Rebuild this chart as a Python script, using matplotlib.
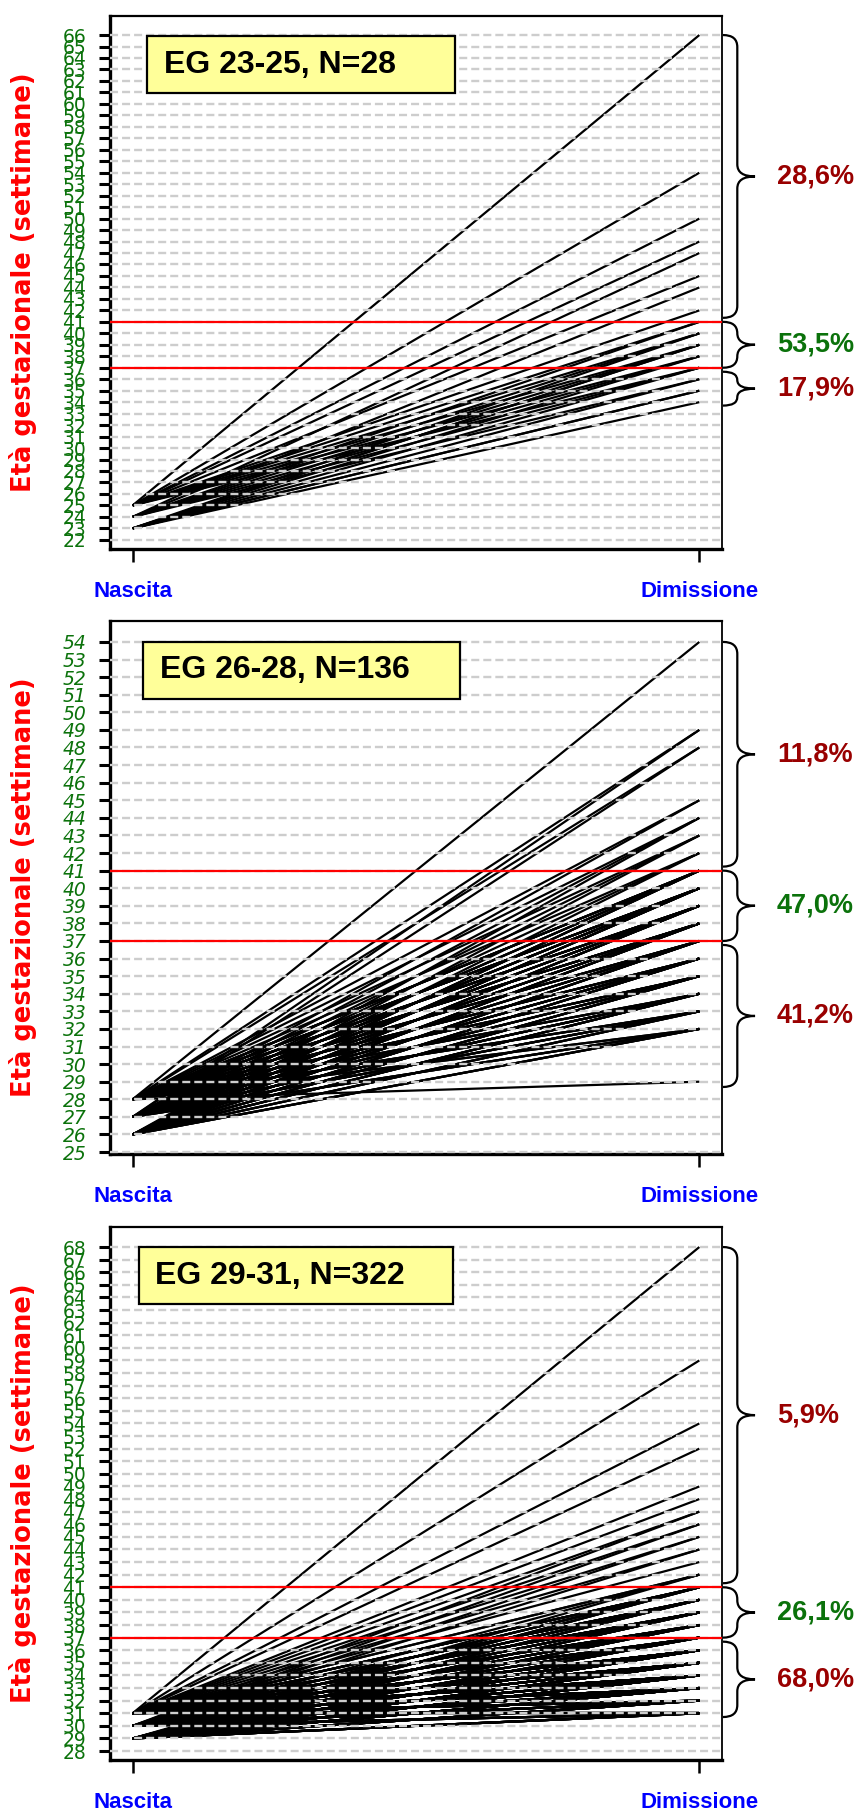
import numpy as np
import matplotlib
matplotlib.use('Agg')
import matplotlib.pyplot as plt
from matplotlib.patches import Rectangle, PathPatch
from matplotlib.path import Path
from matplotlib.transforms import blended_transform_factory

# ---- data: gestational age (weeks) at birth -> at discharge ----
# counts[i] = number of infants born at that GA discharged at ends[i]
p1_title = 'EG 23-25, N=28'
p1_births = [25, 24, 23]
p1_ends = [66, 54, 50, 48, 47, 45, 44, 42, 41, 40, 39, 38, 37, 36, 35, 34]
p1_counts_25 = [1, 1, 1, 1, 0, 1, 0, 1, 1, 1, 1, 1, 1, 0, 0, 0]
p1_counts_24 = [0, 0, 0, 0, 1, 0, 1, 0, 1, 1, 1, 1, 1, 1, 0, 0]
p1_counts_23 = [0, 0, 0, 0, 0, 0, 0, 0, 0, 1, 2, 1, 1, 1, 2, 1]
p1_ticks = list(range(22, 67))
p1_pct = ['28,6%', '53,5%', '17,9%']

p2_title = 'EG 26-28, N=136'
p2_births = [28, 27, 26]
p2_ends = [54, 49, 48, 45, 44, 43, 42, 41, 40, 39, 38, 37, 36, 35, 34, 33, 32, 29]
p2_counts_28 = [1, 1, 1, 1, 1, 1, 1, 4, 5, 5, 5, 4, 4, 4, 3, 3, 2, 1]
p2_counts_27 = [0, 1, 1, 1, 1, 1, 1, 3, 5, 5, 5, 4, 5, 4, 5, 4, 3, 0]
p2_counts_26 = [0, 0, 0, 0, 1, 1, 1, 3, 4, 4, 4, 4, 4, 4, 4, 3, 3, 0]
p2_ticks = list(range(25, 55))
p2_pct = ['11,8%', '47,0%', '41,2%']

p3_title = 'EG 29-31, N=322'
p3_births = [31, 30, 29]
p3_ends = [68, 59, 54, 52, 49, 48, 47, 46, 45, 44, 43, 42,
           41, 40, 39, 38, 37, 36, 35, 34, 33, 32, 31]
p3_counts_31 = [1, 1, 1, 1, 1, 1, 1, 1, 1, 1, 1, 2, 5, 6, 7, 6, 7, 13, 14, 13, 12, 9, 5]
p3_counts_30 = [0, 0, 0, 0, 0, 0, 1, 1, 1, 1, 0, 1, 4, 6, 6, 7, 7, 15, 16, 16, 14, 11, 6]
p3_counts_29 = [0, 0, 0, 0, 0, 0, 0, 0, 0, 0, 0, 1, 3, 4, 5, 5, 6, 14, 15, 15, 14, 10, 7]
p3_ticks = list(range(28, 69))
p3_pct = ['5,9%', '26,1%', '68,0%']

x_labels = ['Nascita', 'Dimissione']
term_lo, term_hi = 37, 41
ylabel = 'Età gestazionale (settimane)'

GREEN = '#0b720b'
DARKRED = '#990000'
FIG_W, FIG_H = 858, 1812

panels = [
    dict(title=p1_title, births=p1_births, ends=p1_ends,
         counts=[p1_counts_25, p1_counts_24, p1_counts_23], ticks=p1_ticks,
         pct=p1_pct, px=(110, 16, 722, 549), ylim=(21.2, 67.66), italic=False,
         box=(0.0605, 0.5637, 0.9625, 0.8555)),
    dict(title=p2_title, births=p2_births, ends=p2_ends,
         counts=[p2_counts_28, p2_counts_27, p2_counts_26], ticks=p2_ticks,
         pct=p2_pct, px=(110, 621, 722, 1154), ylim=(24.89, 55.19), italic=True,
         box=(0.054, 0.572, 0.9606, 0.8537)),
    dict(title=p3_title, births=p3_births, ends=p3_ends,
         counts=[p3_counts_31, p3_counts_30, p3_counts_29], ticks=p3_ticks,
         pct=p3_pct, px=(110, 1227, 722, 1760), ylim=(27.29, 69.59), italic=False,
         box=(0.047, 0.56, 0.962, 0.8555)),
]


def draw_brace(ax, y_top, y_bot, ppu):
    trans = blended_transform_factory(ax.transAxes, ax.transData)
    x0, xs, xt = 1.0016, 1.025, 1.054
    r = min(12.0, abs(y_top - y_bot) * ppu / 4.0) / ppu
    ym = (y_top + y_bot) / 2.0
    verts = [(x0, y_top), (xs, y_top), (xs, y_top - r),
             (xs, ym + r), (xs, ym), (xt, ym),
             (xs, ym), (xs, ym - r),
             (xs, y_bot + r), (xs, y_bot), (x0, y_bot)]
    codes = [Path.MOVETO, Path.CURVE3, Path.CURVE3,
             Path.LINETO, Path.CURVE3, Path.CURVE3,
             Path.CURVE3, Path.CURVE3,
             Path.LINETO, Path.CURVE3, Path.CURVE3]
    patch = PathPatch(Path(verts, codes), transform=trans, fill=False,
                      lw=1.6, edgecolor='black', clip_on=False)
    ax.add_patch(patch)
    return ym


fig = plt.figure(figsize=(FIG_W / 100, FIG_H / 100), dpi=100)

for p in panels:
    left, top, right, bottom = p['px']
    ax = fig.add_axes([left / FIG_W, 1 - bottom / FIG_H,
                       (right - left) / FIG_W, (bottom - top) / FIG_H])
    ax.set_xlim(0.96, 2.04)
    ax.set_ylim(*p['ylim'])

    # one segment per infant
    for b, cnt in zip(p['births'], p['counts']):
        for e, n in zip(p['ends'], cnt):
            for _ in range(n):
                ax.plot([1, 2], [b, e], color='black', lw=1.6,
                        solid_capstyle='butt', zorder=2)

    # dashed grid drawn over the segments
    for t in p['ticks']:
        ax.axhline(t, color='#cdcdcd', lw=1.7, dashes=(3.4, 1.7), zorder=3)
    for t in (term_hi, term_lo):
        ax.axhline(t, color='red', lw=1.6, zorder=4)

    ax.set_yticks(p['ticks'])
    ax.set_yticklabels([str(t) for t in p['ticks']])
    ax.tick_params(axis='y', length=8, width=2.2, pad=9, labelsize=13.5,
                   labelcolor=GREEN)
    if p['italic']:
        for lab in ax.get_yticklabels():
            lab.set_fontstyle('italic')

    ax.set_xticks([1, 2])
    ax.set_xticklabels(x_labels, color='blue', fontweight='bold',
                       family='Liberation Sans', fontsize=16)
    ax.tick_params(axis='x', length=9, width=1.8, pad=14)

    ax.spines['left'].set_linewidth(2.4)
    ax.spines['bottom'].set_linewidth(2.4)
    ax.spines['top'].set_linewidth(1.6)
    ax.spines['right'].set_linewidth(1.3)

    # title box
    x0, x1, yt, yb = p['box']
    ax.add_patch(Rectangle((x0, yb), x1 - x0, yt - yb, transform=ax.transAxes,
                           facecolor='#ffff99', edgecolor='black', lw=1.6,
                           zorder=6))
    ax.text(x0 + 0.027, (yt + yb) / 2, p['title'], transform=ax.transAxes,
            fontsize=23, fontweight='bold', family='Liberation Sans',
            va='center', ha='left', zorder=7)

    # braces with percentages
    ppu = (bottom - top) / (p['ylim'][1] - p['ylim'][0])
    gap = 4.0 / ppu
    ends_max, ends_min = max(p['ends']), min(p['ends'])
    groups = [(ends_max, term_hi + gap), (term_hi, term_lo),
              (term_lo - gap, ends_min - 0.3)]
    colors = [DARKRED, GREEN, DARKRED]
    trans = blended_transform_factory(ax.transAxes, ax.transData)
    for (ya, yb2), txt, c in zip(groups, p['pct'], colors):
        ym = draw_brace(ax, ya, yb2, ppu)
        ax.text(1.09, ym, txt, transform=trans, color=c, fontsize=19.5,
                fontweight='bold', family='Liberation Sans', va='center',
                ha='left', clip_on=False)

    fig.text(23.5 / FIG_W, 1 - (top + bottom) / 2 / FIG_H, ylabel,
             rotation=90, color='red', fontweight='bold', fontsize=18.5,
             ha='center', va='center')

fig.savefig('out.png', dpi=100)
